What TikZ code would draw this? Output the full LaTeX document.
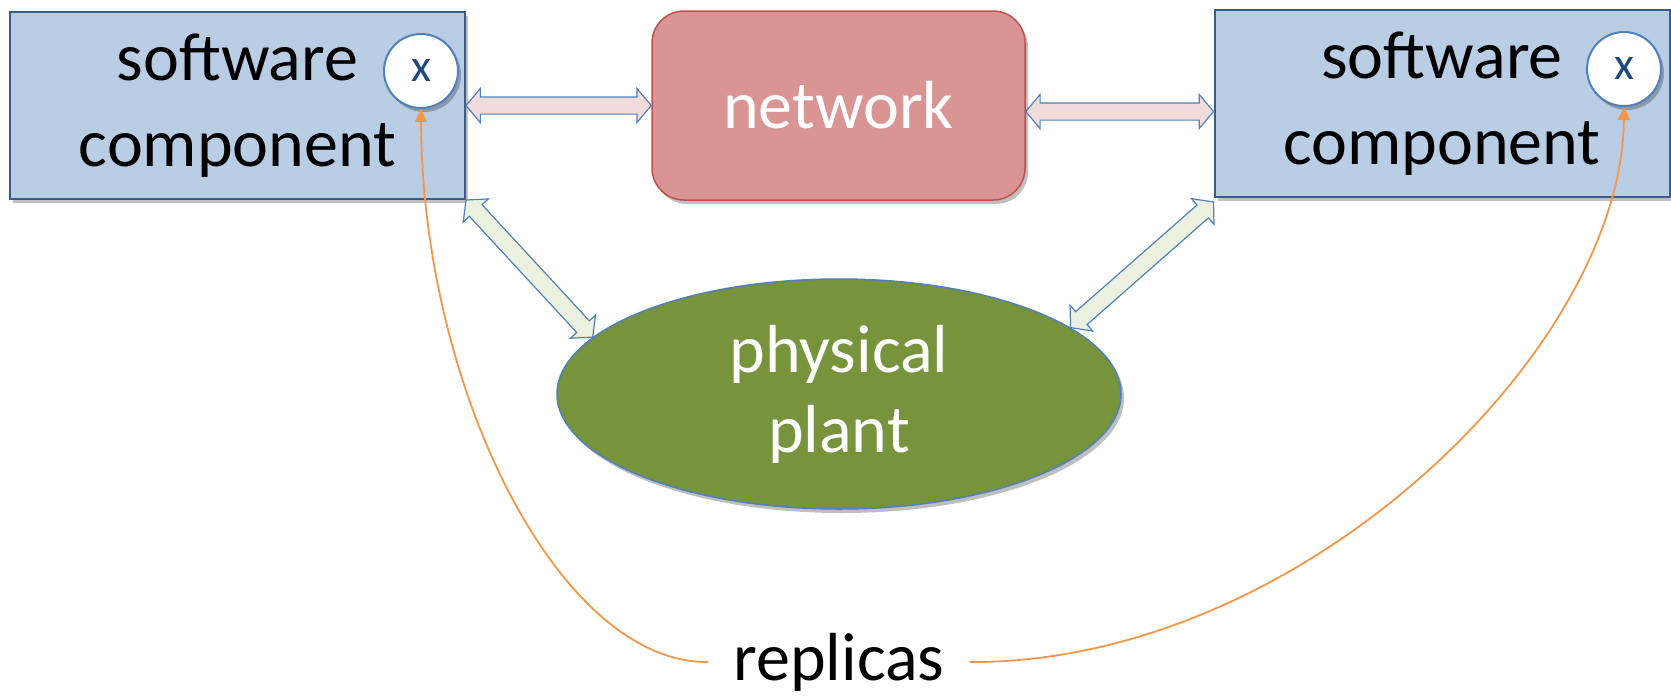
\documentclass[tikz,border=0pt]{standalone}
\usepackage{fontspec}
\setmainfont{Carlito}
\usetikzlibrary{positioning,calc,shapes.geometric,shapes.arrows,shadows,arrows.meta}
\definecolor{boxfill}{HTML}{B9CDE5}
\definecolor{boxline}{HTML}{385D8A}
\definecolor{netfill}{HTML}{D99594}
\definecolor{netline}{HTML}{C0504D}
\definecolor{plantfill}{HTML}{77933C}
\definecolor{blueline}{HTML}{4F81BD}
\definecolor{pinkarrow}{HTML}{F2DCDB}
\definecolor{greenarrow}{HTML}{EBF1DE}
\definecolor{orangeline}{HTML}{F79646}
\definecolor{xblue}{HTML}{1F497D}

% block arrow between two points: from, to, fill, name
\newcommand{\blockarrow}[4]{%
  \path let \p1=($(#2)-(#1)$), \n1={atan2(\y1,\x1)}, \n2={veclen(\x1,\y1)} in
    node[blockarr, fill=#3, rotate=\n1, minimum height=\n2] (#4) at ($(#1)!0.5!(#2)$) {};}

\begin{document}
\begin{tikzpicture}[x=1pt,y=-1pt,
  big/.style={font=\fontsize{68}{86}\selectfont},
  shade/.style={drop shadow={shadow xshift=3pt, shadow yshift=-4pt, opacity=0.25, fill=black}},
  component/.style={draw=boxline, line width=2pt, fill=boxfill, minimum width=455pt, minimum height=187pt, align=center, big, shade},
  replica/.style={circle, draw=blueline, line width=2pt, fill=white, minimum size=74pt, inner sep=0pt, text=xblue, font=\fontsize{46}{46}\selectfont, shade},
  blockarr/.style={double arrow, draw=blueline, line width=1.2pt, inner xsep=0pt, inner ysep=8pt, minimum width=0pt, double arrow head extend=8.5pt, double arrow tip angle=100},
  replink/.style={draw=orangeline, line width=1.8pt, -{Triangle[length=13pt,width=12pt]}}
]
  \useasboundingbox (0,0) rectangle (1671,699);

  % software components
  \node[component] (left) at (237.5,105.5) {software\\component};
  \node[component] (right) at (1442,103.5) {software\\component};
  \node[replica] (lx) at (421,71) {x};
  \node[replica] (rx) at (1624,69) {x};

  % network
  \node[draw=netline, line width=1.5pt, fill=netfill, rounded corners=32pt, minimum width=373pt, minimum height=189pt, text=white, big, shade] (net) at (838.5,105.5) {network};

  % physical plant
  \node[ellipse, draw=blueline, line width=1.5pt, fill=plantfill, minimum width=564pt, minimum height=230pt, align=center, text=white, font=\fontsize{68}{80}\selectfont, shade] (plant) at (839,394) {physical\\plant};

  % replicas
  \node[big, inner xsep=25pt, inner ysep=0pt] (rep) at (839,662) {replicas};

  % block arrows
  \blockarrow{left.east}{net.west}{pinkarrow}{a1}
  \blockarrow{[yshift=-6pt]net.east}{[yshift=-6pt]net.east -| right.west}{pinkarrow}{a2}
  \blockarrow{left.south east}{plant.167}{greenarrow}{a3}
  \blockarrow{[yshift=-4pt]right.south west}{plant.16}{greenarrow}{a4}

  % replica links
  \draw[replink] (rep.west) .. controls (560,664) and (422,390) .. (lx.south);
  \draw[replink] (rep.east) .. controls (1300,664) and (1622,350) .. (rx.south);
\end{tikzpicture}
\end{document}
